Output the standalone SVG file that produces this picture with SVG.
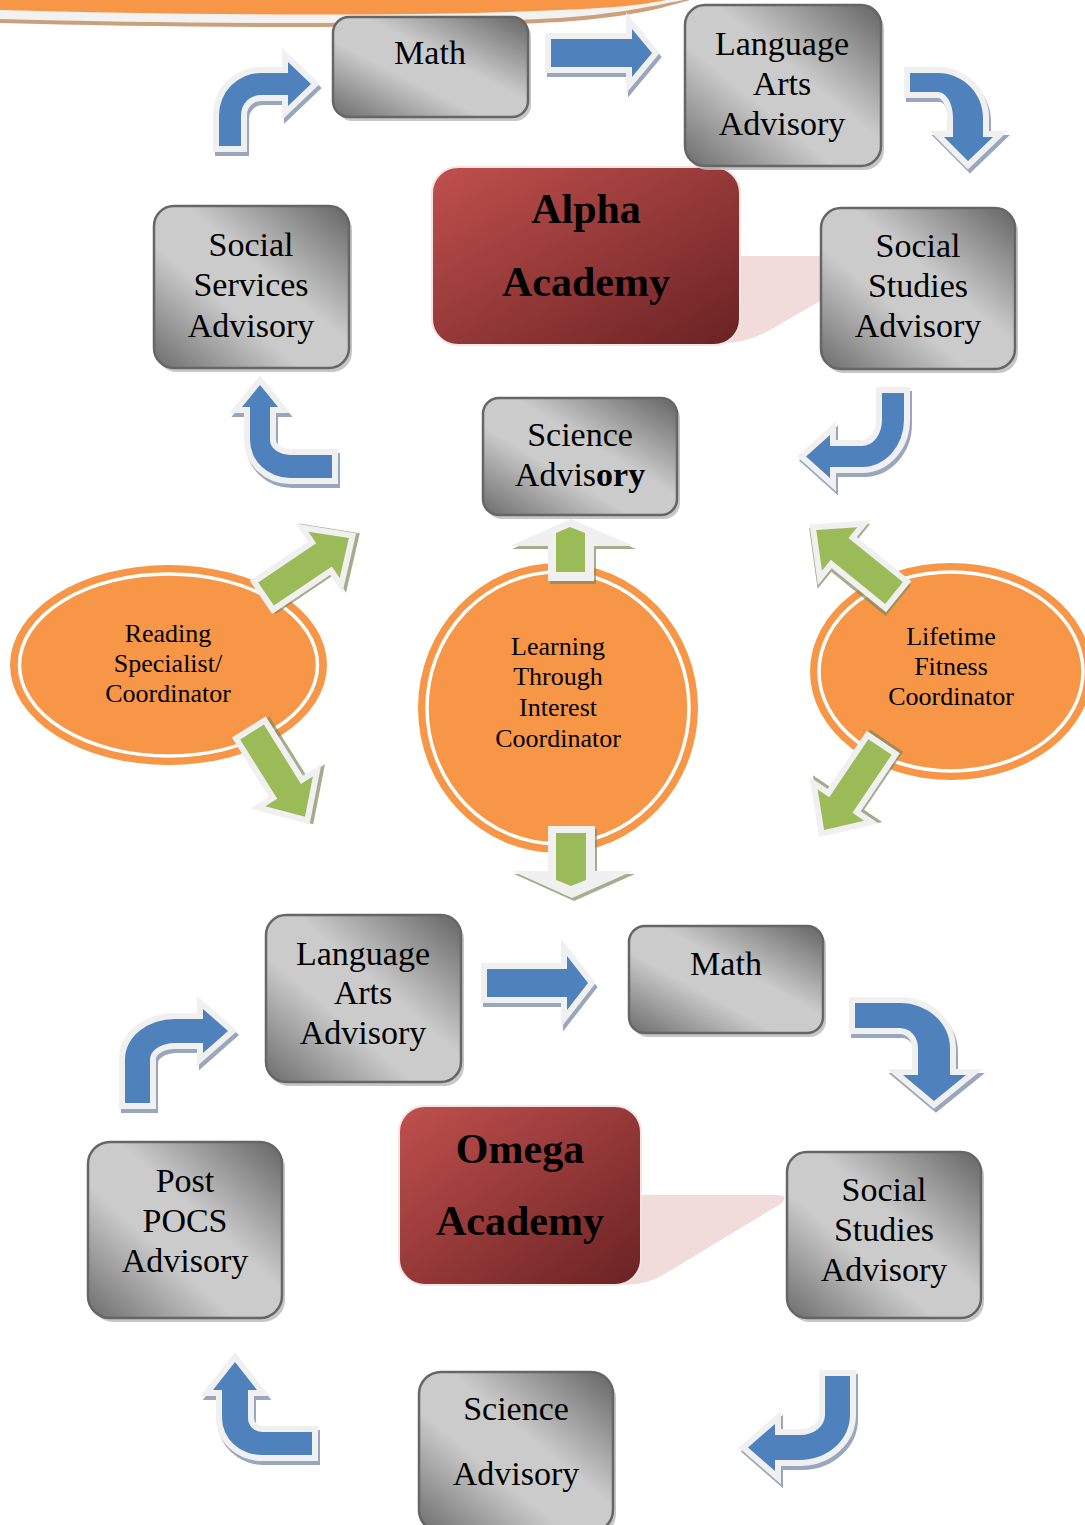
<svg xmlns="http://www.w3.org/2000/svg" xmlns:xlink="http://www.w3.org/1999/xlink" width="1085" height="1525" viewBox="0 0 1085 1525">
  <style>
    .box { fill: url(#steel); stroke: #666; stroke-width: 2.5; }
    .bsh { fill: #bdbdbd; opacity: 0.85; }
    .acad { fill: url(#wine); stroke: #f3e4e4; stroke-width: 2; }
    .tail { fill: #f2dcdb; }
    .lbl { font-family: "Liberation Serif", "Times New Roman", serif; font-size: 34px; fill: #000; text-anchor: middle; }
    .big { font-family: "Liberation Serif", "Times New Roman", serif; font-size: 42px; font-weight: bold; fill: #000; text-anchor: middle; }
    .small { font-family: "Liberation Serif", "Times New Roman", serif; font-size: 26px; fill: #000; text-anchor: middle; }
    .oval { fill: #f79646; }
    .ring { fill: none; stroke: #ffffff; stroke-width: 3.5; }
    .bsha { fill: #98a7be; stroke: #98a7be; stroke-width: 12; stroke-linejoin: miter; }
    .barr { fill: #4f81bd; stroke: #f0f0f0; stroke-width: 12; stroke-linejoin: miter; paint-order: stroke; }
    .gsha { fill: #7d8a5c; stroke: #7d8a5c; stroke-width: 12; stroke-linejoin: miter; opacity: 0.7; }
    .garr { fill: #9bbb59; stroke: #f0f0f0; stroke-width: 12; stroke-linejoin: miter; paint-order: stroke; }
    .wout { fill: #f0f0f0; }
    .osha { fill: #7d8a5c; opacity: 0.7; }
    .gfill { fill: #9bbb59; }
  </style>
  <defs>
    <linearGradient id="steel" x1="1" y1="0" x2="0" y2="1">
      <stop offset="0" stop-color="#646464"/>
      <stop offset="0.42" stop-color="#cbcbcb"/>
      <stop offset="0.62" stop-color="#cbcbcb"/>
      <stop offset="1" stop-color="#6c6c6c"/>
    </linearGradient>
    <linearGradient id="wine" x1="0" y1="0" x2="1" y2="1">
      <stop offset="0" stop-color="#c0504d"/>
      <stop offset="1" stop-color="#6a2224"/>
    </linearGradient>
    <!-- block arrow pointing along +x, tail at the origin -->
    <path id="straight" d="M0,-14 L70,-14 L70,-28 L100,0 L70,28 L70,14 L0,14 Z"/>
    <!-- blue loop arrows -->
    <path id="a-tl" d="M219,146 L219,115 A42,42 0 0 1 261,73 L288,73 L288,62 L311,84 L288,106 L288,95 L261,95 A20,20 0 0 0 241,115 L241,146 Z"/>
    <path id="a-top" d="M551,39 L632,39 L632,29 L652,53 L632,77 L632,67 L551,67 Z"/>
    <path id="a-tr" d="M910,73 L938,73 A45,45 0 0 1 983,118 L983,137 L993,137 L968,161 L944,137 L953,137 L953,118 A15,26 0 0 0 938,92 L910,92 Z"/>
    <path id="a-r" d="M882,393 L904,393 L904,420 A42,47 0 0 1 862,467 L830,467 L830,478 L806,456.5 L830,435 L830,446 L862,446 A20,26 0 0 0 882,420 Z"/>
    <path id="a-l" d="M250,407 L242,407 L260,385 L278,407 L270,407 L270,440 A20,15 0 0 0 290,455 L332,455 L332,478 L290,478 A40,38 0 0 1 250,440 Z"/>
    <path id="b-tl" d="M125,1103 L125,1059 A50,40 0 0 1 175,1019 L203,1019 L203,1009 L228,1031 L203,1053 L203,1043 L175,1043 A25,16 0 0 0 150,1059 L150,1103 Z"/>
    <path id="b-top" d="M487,969 L567,969 L567,956 L588,983 L567,1010 L567,997 L487,997 Z"/>
    <path id="b-tr" d="M855,1003 L900,1003 A50,45 0 0 1 950,1048 L950,1075 L966,1075 L934,1101 L903,1075 L918,1075 L918,1048 A18,20 0 0 0 900,1028 L855,1028 Z"/>
    <path id="b-r" d="M825,1376 L850,1376 L850,1415 A50,45 0 0 1 800,1460 L775,1460 L775,1471 L748,1447.5 L775,1424 L775,1435 L800,1435 A25,20 0 0 0 825,1415 Z"/>
    <path id="b-l" d="M222,1390 L213,1390 L235,1362 L257,1390 L248,1390 L248,1418 A14,14 0 0 0 262,1432 L312,1432 L312,1455 L262,1455 A40,37 0 0 1 222,1418 Z"/>
    <path id="up-out" d="M510,546 L571,519 L634,546 L594,546 L594,581 L548,581 L548,546 Z"/>
    <path id="dn-out" d="M548,826 L595,826 L595,871 L633,871 L572,898 L512,871 L548,871 Z"/>
  </defs>

  <rect width="1085" height="1525" fill="#ffffff"/>

  <!-- banner edge along the top -->
  <g id="banner">
    <path d="M0,0 H690 C662,8 632,17 560,22 C420,29 180,28 0,23 Z" fill="#cda07c"/>
    <path d="M0,0 H684 C656,5 626,13 560,18 C420,25 180,24 0,19 Z" fill="#f2f2f2"/>
    <path d="M0,0 H666 C642,5 612,8 560,10 C420,17 180,15 0,10 Z" fill="#f79646"/>
  </g>

  <!-- Alpha loop -->
  <g id="alpha-academy">
    <path class="tail" d="M735,256 L822,256 L822,300 L770,330 Q748,343 718,344 Z"/>
    <rect class="acad" x="432" y="167" width="308" height="178" rx="26"/>
    <text class="big" x="586" y="223">Alpha</text>
    <text class="big" x="586" y="296">Academy</text>
  </g>

  <g id="math-top">
    <rect class="bsh" x="336" y="21" width="195" height="100" rx="16"/>
    <rect class="box" x="333" y="17" width="195" height="100" rx="16"/>
    <text class="lbl" x="430" y="64">Math</text>
  </g>

  <g id="language-arts-top">
    <rect class="bsh" x="688" y="9" width="196" height="161" rx="20"/>
    <rect class="box" x="685" y="5" width="196" height="161" rx="20"/>
    <text class="lbl" x="782" y="55">Language</text>
    <text class="lbl" x="782" y="95">Arts</text>
    <text class="lbl" x="782" y="135">Advisory</text>
  </g>

  <g id="social-studies-top">
    <rect class="bsh" x="824" y="212" width="194" height="161" rx="20"/>
    <rect class="box" x="821" y="208" width="194" height="161" rx="20"/>
    <text class="lbl" x="918" y="257">Social</text>
    <text class="lbl" x="918" y="297">Studies</text>
    <text class="lbl" x="918" y="337">Advisory</text>
  </g>

  <g id="social-services">
    <rect class="bsh" x="157" y="210" width="195" height="162" rx="20"/>
    <rect class="box" x="154" y="206" width="195" height="162" rx="20"/>
    <text class="lbl" x="251" y="256">Social</text>
    <text class="lbl" x="251" y="296">Services</text>
    <text class="lbl" x="251" y="337">Advisory</text>
  </g>

  <g id="science-top">
    <rect class="bsh" x="486" y="402" width="194" height="117" rx="16"/>
    <rect class="box" x="483" y="398" width="194" height="117" rx="16"/>
    <text class="lbl" x="580" y="446">Science</text>
    <text class="lbl" x="580" y="486">Advis<tspan font-weight="bold">ory</tspan></text>
  </g>

  <!-- coordinators -->
  <g id="reading">
    <ellipse class="oval" cx="168.5" cy="665" rx="158.5" ry="100"/>
    <ellipse class="ring" cx="168.5" cy="665" rx="149" ry="91"/>
    <text class="small" x="168" y="642">Reading</text>
    <text class="small" x="168" y="672">Specialist/</text>
    <text class="small" x="168" y="702">Coordinator</text>
  </g>

  <g id="learning">
    <ellipse class="oval" cx="558" cy="708" rx="140" ry="145"/>
    <ellipse class="ring" cx="558" cy="708" rx="131" ry="136"/>
    <text class="small" x="558" y="655">Learning</text>
    <text class="small" x="558" y="685">Through</text>
    <text class="small" x="558" y="716">Interest</text>
    <text class="small" x="558" y="747">Coordinator</text>
  </g>

  <g id="lifetime">
    <ellipse class="oval" cx="951" cy="671.5" rx="141" ry="108.5"/>
    <ellipse class="ring" cx="951" cy="671.5" rx="132" ry="99.5"/>
    <text class="small" x="951" y="645">Lifetime</text>
    <text class="small" x="951" y="675">Fitness</text>
    <text class="small" x="951" y="705">Coordinator</text>
  </g>

  <!-- Omega loop -->
  <g id="omega-academy">
    <path class="tail" d="M636,1195 L780,1195 Q788,1196 782,1203 L668,1272 Q648,1285 625,1285 Z"/>
    <rect class="acad" x="399" y="1106" width="242" height="179" rx="26"/>
    <text class="big" x="520" y="1163">Omega</text>
    <text class="big" x="520" y="1235">Academy</text>
  </g>

  <g id="language-arts-bottom">
    <rect class="bsh" x="269" y="919" width="195" height="167" rx="20"/>
    <rect class="box" x="266" y="915" width="195" height="167" rx="20"/>
    <text class="lbl" x="363" y="965">Language</text>
    <text class="lbl" x="363" y="1004">Arts</text>
    <text class="lbl" x="363" y="1044">Advisory</text>
  </g>

  <g id="math-bottom">
    <rect class="bsh" x="632" y="930" width="194" height="107" rx="16"/>
    <rect class="box" x="629" y="926" width="194" height="107" rx="16"/>
    <text class="lbl" x="726" y="975">Math</text>
  </g>

  <g id="social-studies-bottom">
    <rect class="bsh" x="790" y="1156" width="194" height="166" rx="20"/>
    <rect class="box" x="787" y="1152" width="194" height="166" rx="20"/>
    <text class="lbl" x="884" y="1201">Social</text>
    <text class="lbl" x="884" y="1241">Studies</text>
    <text class="lbl" x="884" y="1281">Advisory</text>
  </g>

  <g id="post-pocs">
    <rect class="bsh" x="91" y="1146" width="194" height="176" rx="22"/>
    <rect class="box" x="88" y="1142" width="194" height="176" rx="22"/>
    <text class="lbl" x="185" y="1192">Post</text>
    <text class="lbl" x="185" y="1232">POCS</text>
    <text class="lbl" x="185" y="1272">Advisory</text>
  </g>

  <g id="science-bottom">
    <rect class="bsh" x="422" y="1376" width="194" height="160" rx="22"/>
    <rect class="box" x="419" y="1372" width="194" height="160" rx="22"/>
    <text class="lbl" x="516" y="1420">Science</text>
    <text class="lbl" x="516" y="1485">Advisory</text>
  </g>

  <!-- connectors -->
  <g id="connectors">
    <!-- blue loop arrows: shadow, then outlined fill -->
    <use xlink:href="#a-tl" class="bsha" transform="translate(2,4)"/>
    <use xlink:href="#a-tl" class="barr"/>
    <use xlink:href="#a-top" class="bsha" transform="translate(2,4)"/>
    <use xlink:href="#a-top" class="barr"/>
    <use xlink:href="#a-tr" class="bsha" transform="translate(2,4)"/>
    <use xlink:href="#a-tr" class="barr"/>
    <use xlink:href="#a-r" class="bsha" transform="translate(2,4)"/>
    <use xlink:href="#a-r" class="barr"/>
    <use xlink:href="#a-l" class="bsha" transform="translate(2,4)"/>
    <use xlink:href="#a-l" class="barr"/>
    <use xlink:href="#b-tl" class="bsha" transform="translate(2,4)"/>
    <use xlink:href="#b-tl" class="barr"/>
    <use xlink:href="#b-top" class="bsha" transform="translate(2,4)"/>
    <use xlink:href="#b-top" class="barr"/>
    <use xlink:href="#b-tr" class="bsha" transform="translate(2,4)"/>
    <use xlink:href="#b-tr" class="barr"/>
    <use xlink:href="#b-r" class="bsha" transform="translate(2,4)"/>
    <use xlink:href="#b-r" class="barr"/>
    <use xlink:href="#b-l" class="bsha" transform="translate(2,4)"/>
    <use xlink:href="#b-l" class="barr"/>

    <!-- green coordinator arrows -->
    <g transform="translate(266,594) rotate(-34)">
      <use xlink:href="#straight" class="gsha" transform="translate(3,2)"/>
      <use xlink:href="#straight" class="garr"/>
    </g>
    <g transform="translate(252,732) rotate(58)">
      <use xlink:href="#straight" class="gsha" transform="translate(2,-3)"/>
      <use xlink:href="#straight" class="garr"/>
    </g>
    <g transform="translate(894,593) rotate(219)">
      <use xlink:href="#straight" class="gsha" transform="translate(-2,-3)"/>
      <use xlink:href="#straight" class="garr"/>
    </g>
    <g transform="translate(880,747) rotate(124)">
      <use xlink:href="#straight" class="gsha" transform="translate(-3,-2)"/>
      <use xlink:href="#straight" class="garr"/>
    </g>

    <!-- flat-headed arrows above and below the centre circle -->
    <use xlink:href="#up-out" class="osha" transform="translate(2,3)"/>
    <use xlink:href="#up-out" class="wout"/>
    <path class="gfill" d="M556,572 L556,533 L570,527 L585,533 L585,572 Z"/>
    <use xlink:href="#dn-out" class="osha" transform="translate(2,3)"/>
    <use xlink:href="#dn-out" class="wout"/>
    <path class="gfill" d="M556,833 L586,833 L586,880 L571,886 L556,880 Z"/>
  </g>
</svg>
